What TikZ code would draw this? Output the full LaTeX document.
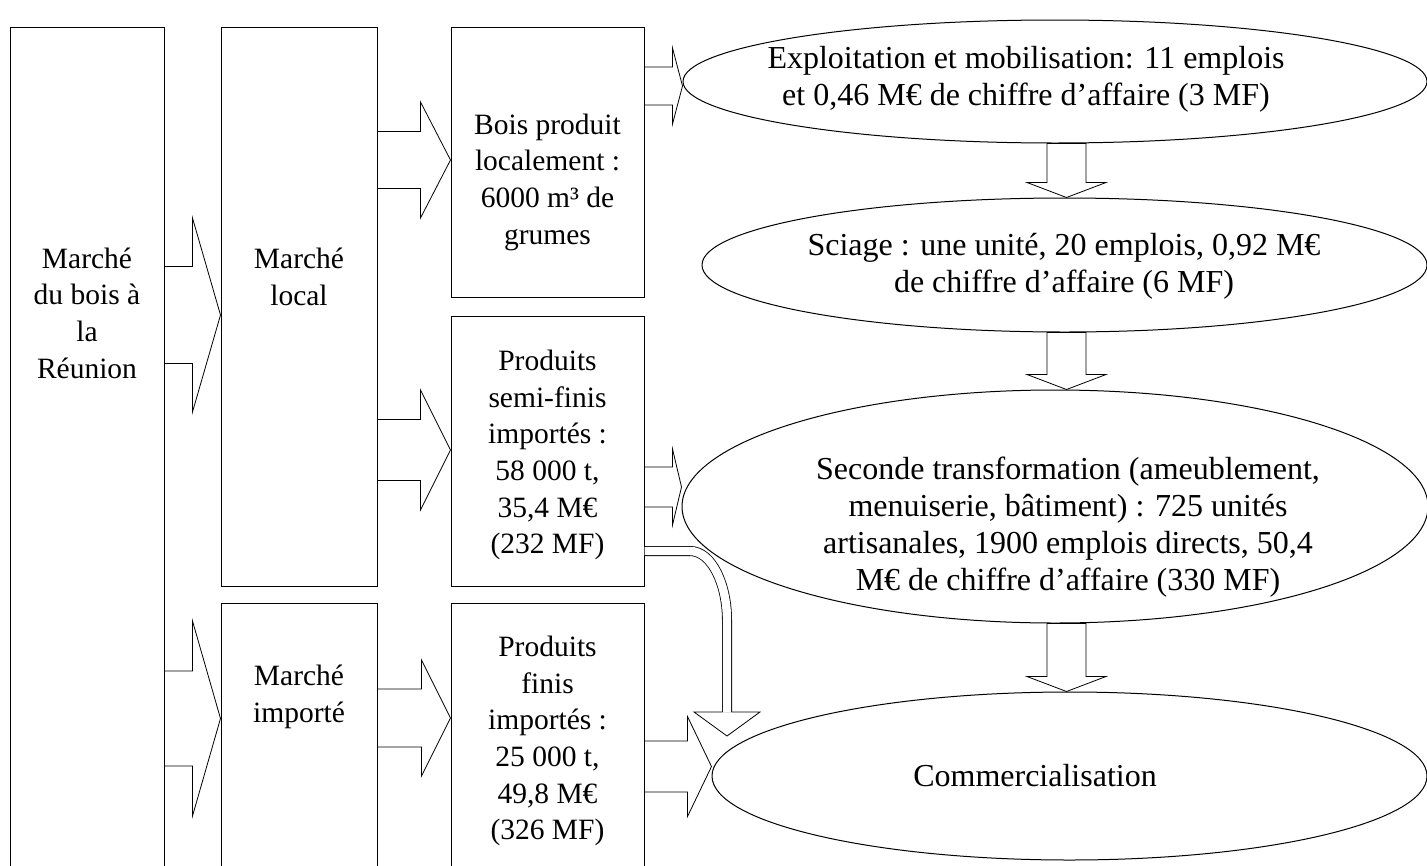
\documentclass[tikz,border=0pt]{standalone}
\usepackage{fontspec}
\setmainfont{Liberation Serif}
\usetikzlibrary{shapes.geometric}

% block arrow to the right: tail node, tip node, y, shaft half, head half, head length
\newcommand\rarrow[6]{%
  \begin{scope}[shift={(#2.west |- 0,#3)}]
  \draw[blk] (#1.east |- 0,-#4) -- (-#6,-#4) -- (-#6,-#5) -- (0,0) -- (-#6,#5) -- (-#6,#4) -- (#1.east |- 0,#4);
  \end{scope}}
% block arrow down between two ovals
\newcommand\darrow[2]{%
  \begin{scope}[shift={(1066.5,0 |- #2.north)}]
  \draw[blk] (-19.5,0 |- #1.south) -- (-19.5,-15) -- (-39.5,-15) -- (0,0) -- (39.5,-15) -- (19.5,-15) -- (19.5,0 |- #1.south) -- cycle;
  \end{scope}}

\begin{document}
\begin{tikzpicture}[x=1pt,y=-1pt,
  box/.style={draw,line width=1pt,inner sep=0pt},
  oval/.style={draw,fill=white,line width=1pt,ellipse,inner sep=0pt},
  txt/.style={align=center,font=\fontsize{29.5}{36.7}\selectfont,inner sep=0pt},
  otxt/.style={txt,font=\fontsize{32}{37}\selectfont},
  blk/.style={draw,line width=0.8pt,line join=miter}]
\useasboundingbox (0,0) rectangle (1427,865);
\clip (0,0) rectangle (1427,865);

% boxes
\node[box,minimum width=154,minimum height=873] (reunion) at (87,463.5) {};
\node[box,minimum width=156,minimum height=559] (local) at (299,306.5) {};
\node[box,minimum width=156,minimum height=297] (importe) at (299,751.5) {};
\node[box,minimum width=193,minimum height=270] (bois) at (547.5,162) {};
\node[box,minimum width=193,minimum height=270] (semi) at (547.5,451) {};
\node[box,minimum width=193,minimum height=297] (finis) at (547.5,751.5) {};

% ovals
\node[oval,minimum width=744,minimum height=123] (e1) at (1055,81.5) {};
\node[oval,minimum width=725,minimum height=134] (e2) at (1064.5,265) {};
\node[oval,minimum width=746,minimum height=233] (e3) at (1055,506.5) {};
\node[oval,minimum width=715,minimum height=168] (e4) at (1069.5,776) {};

% arrows
\rarrow{reunion}{local}{315}{48.5}{97}{28}
\rarrow{reunion}{importe}{718.5}{47.5}{97.5}{28}
\rarrow{local}{bois}{160}{28.5}{58}{30}
\rarrow{local}{semi}{450}{30.5}{60}{30}
\rarrow{importe}{finis}{718}{29}{58}{29}
\rarrow{bois}{e1}{86}{19}{38}{10}
\rarrow{semi}{e3}{487}{20}{38}{9}
\rarrow{finis}{e4}{766.5}{25.5}{50}{24}
\darrow{e1}{e2}
\darrow{e2}{e3}
\darrow{e3}{e4}

% curved arrow
\coordinate (ctip) at (727,736);
\draw[line width=0.8pt,double=white,double distance=8.4pt] (semi.east |- 0,551) -- (690,551)
  .. controls (712,551) and (727,585) .. (727,620) -- (727,712);
\draw[blk] (722.4,712) -- (694,712) -- (ctip) -- (760,712) -- (731.6,712);

% texts
\node[txt] (reunion-t) at (87,313) {Marché\\du bois à\\la\\Réunion};
\node[txt] (local-t) at (299,277) {Marché\\local};
\node[txt] (bois-t) at (547.5,182) {Bois produit\\localement :\\6000 m³ de\\grumes};
\node[txt] (semi-t) at (547.5,455) {Produits\\semi-finis\\importés :\\58 000 t,\\35,4 M€\\(232 MF)};
\node[txt] (importe-t) at (299,697) {Marché\\importé};
\node[txt] (finis-t) at (547.5,741) {Produits\\finis\\importés :\\25 000 t,\\49,8 M€\\(326 MF)};
\node[otxt] (e1-t) at (1026,79) {Exploitation et mobilisation: 11 emplois\\et 0,46 M€ de chiffre d’affaire (3 MF)};
\node[otxt] (e2-t) at (1064,266) {Sciage : une unité, 20 emplois, 0,92 M€\\de chiffre d’affaire (6 MF)};
\node[otxt] (e3-t) at (1068,527) {Seconde transformation (ameublement,\\menuiserie, bâtiment) : 725 unités\\artisanales, 1900 emplois directs, 50,4\\M€ de chiffre d’affaire (330 MF)};
\node[otxt] (e4-t) at (1035,776) {Commercialisation};
\end{tikzpicture}
\end{document}
